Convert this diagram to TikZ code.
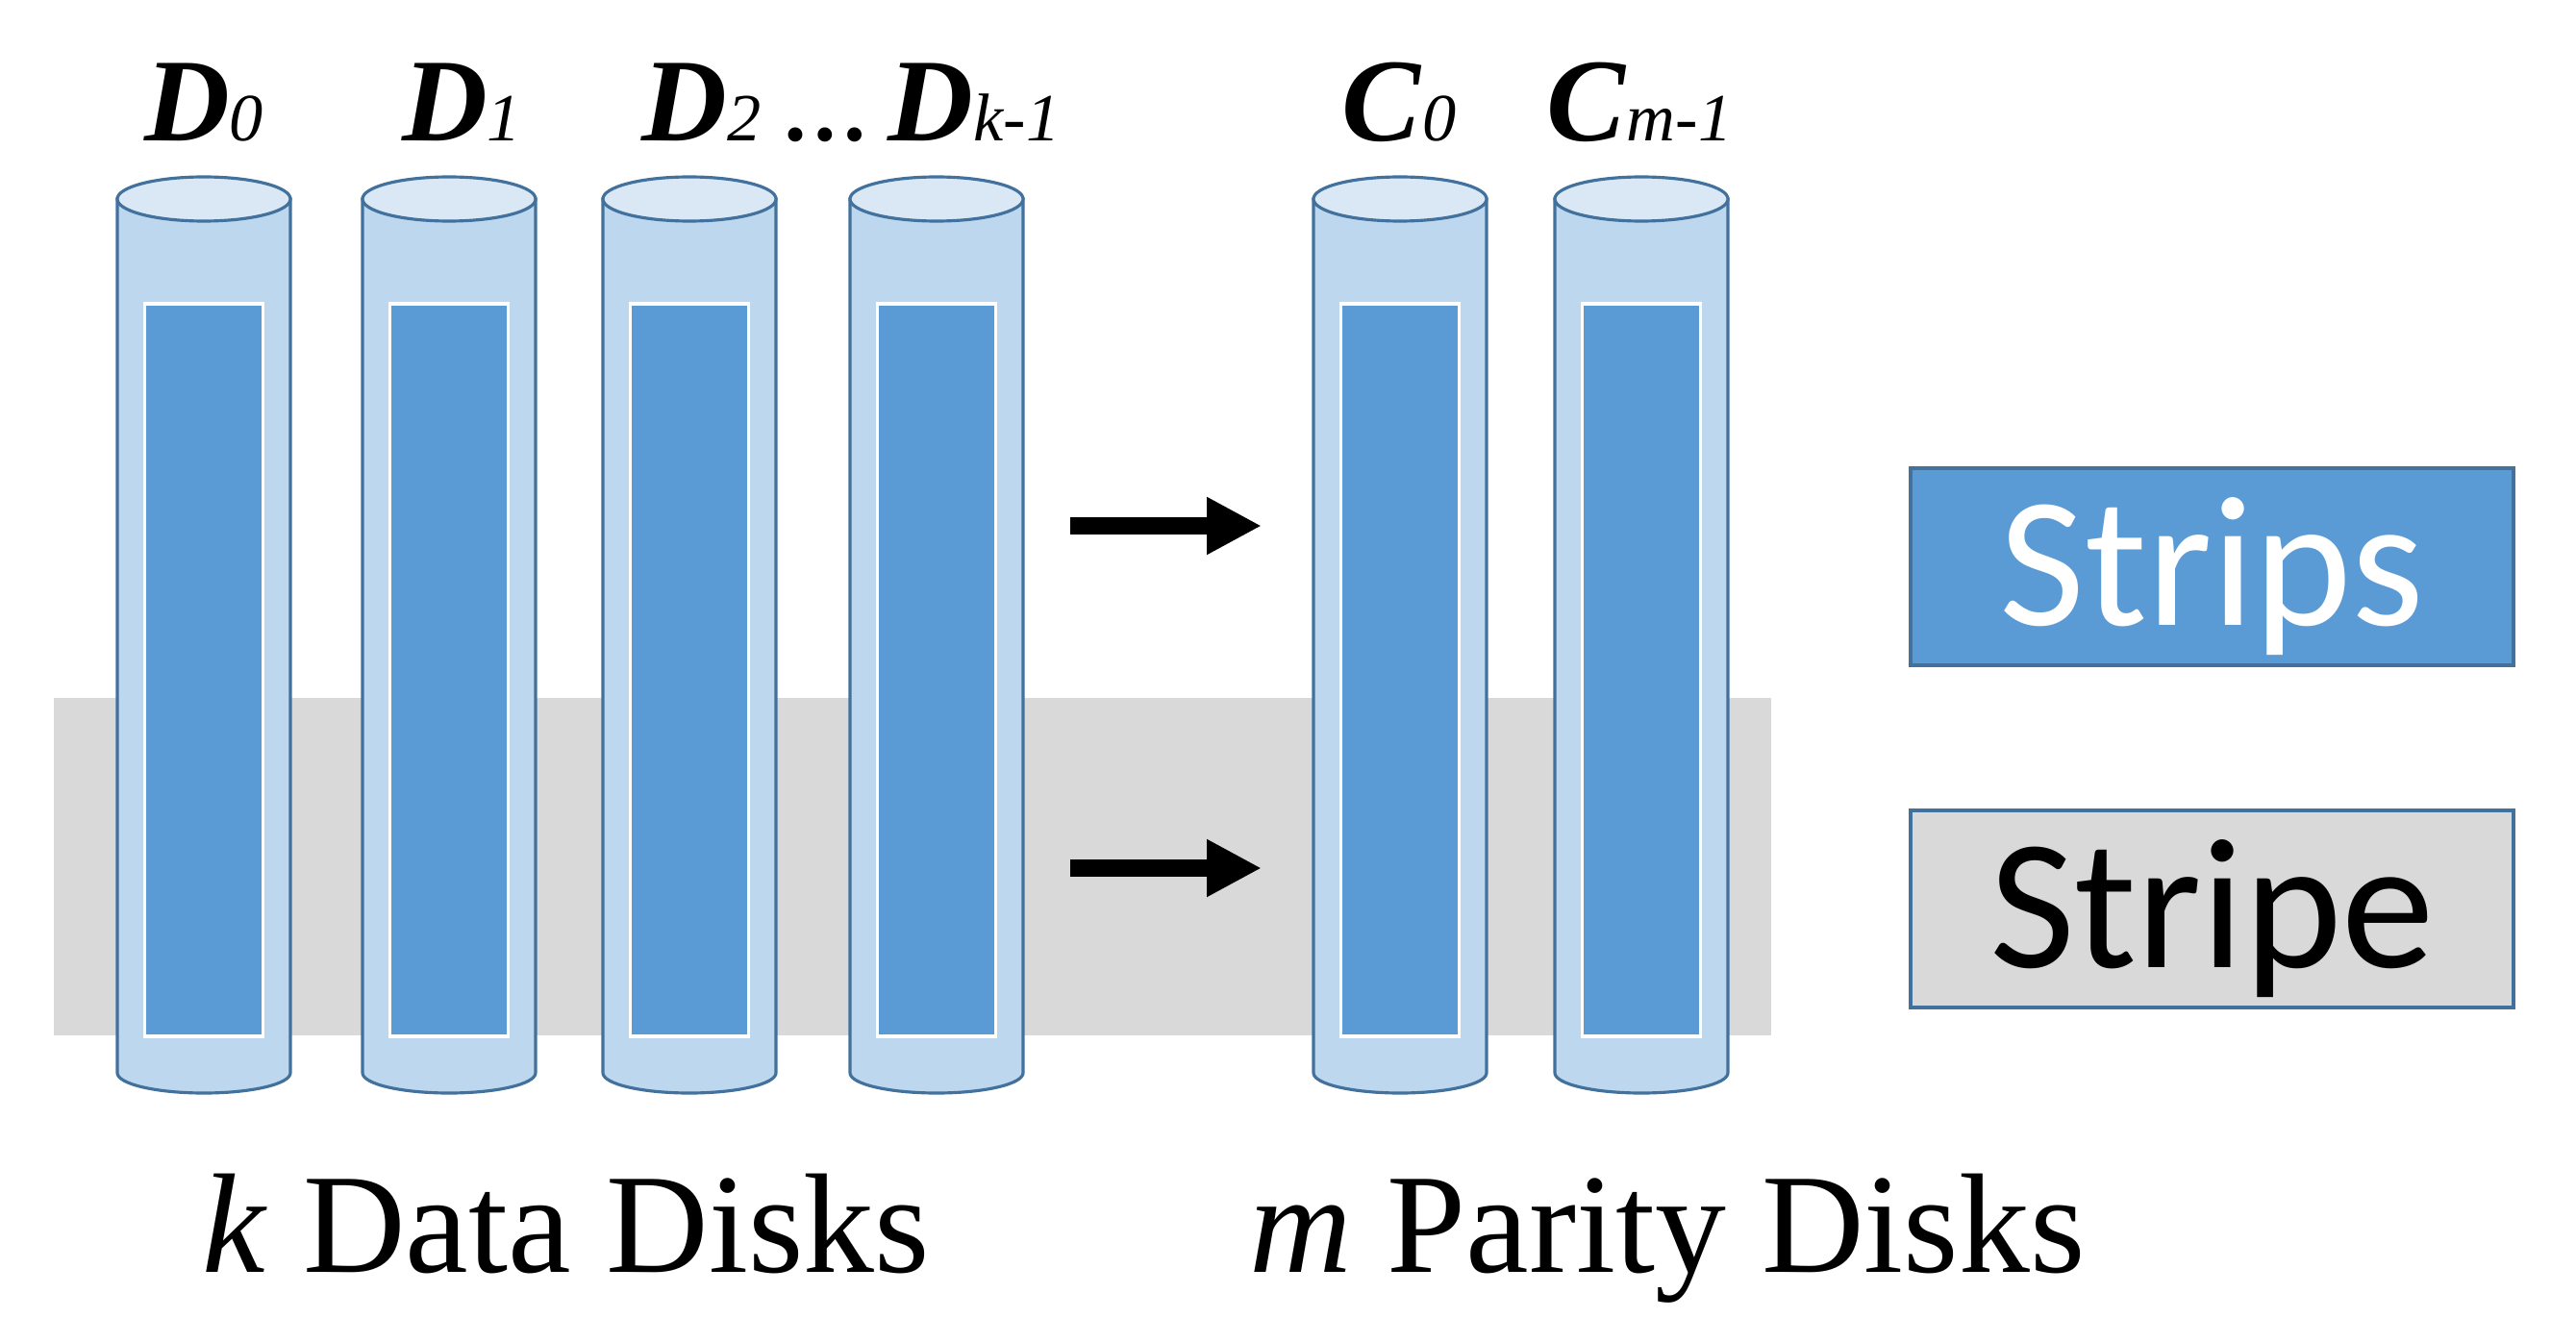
\documentclass[tikz,border=0pt]{standalone}
\usepackage{fontspec}
\setmainfont{Liberation Serif}
\newfontfamily\legendfont{Carlito}
\usetikzlibrary{arrows.meta}
\definecolor{diskbody}{HTML}{BDD7EE}
\definecolor{disktop}{HTML}{DAE8F5}
\definecolor{diskline}{HTML}{41719C}
\definecolor{stripblue}{HTML}{5B9BD5}
\definecolor{stripegray}{HTML}{D9D9D9}
\newcommand{\disksub}[2]{\textbf{\textit{#1}}{\fontsize{20}{20}\selectfont\textit{#2}}}

\begin{document}
\begin{tikzpicture}[
    disk/.style={fill=diskbody,draw=diskline,line width=0.9pt},
    disklid/.style={fill=disktop,draw=diskline,line width=0.9pt},
    strip/.style={fill=stripblue,draw=white,line width=0.9pt,minimum width=1.23cm,minimum height=7.62cm,inner sep=0pt},
    legendbox/.style={draw=diskline,line width=0.9pt,minimum width=6.27cm,minimum height=2.05cm,inner ysep=0pt,
      text height=45.6pt,text depth=11pt,font=\legendfont\fontsize{55}{55}\selectfont},
    disklabel/.style={anchor=base,font=\fontsize{35}{35}\selectfont},
    caption/.style={anchor=base,font=\fontsize{42}{42}\selectfont},
    bigarrow/.style={-{Triangle[length=0.57cm,width=0.56cm]},line width=0.18cm}
  ]
    \useasboundingbox (0,0) rectangle (26.79,13.96);
    \fill[stripegray] (0.56,3.19) rectangle (18.42,6.70);

    \foreach \name/\x in {d0/2.12,d1/4.67,d2/7.17,dk/9.74,c0/14.56,cm/17.07}{
      \draw[disk] (\x-0.9,11.89) -- (\x-0.9,2.80)
        arc[start angle=180,end angle=360,x radius=0.9,y radius=0.21] -- (\x+0.9,11.89) -- cycle;
      \draw[disklid] (\x,11.89) ellipse [x radius=0.9,y radius=0.23];
      \node[strip] (\name) at (\x,6.99) {};
    }

    \node[disklabel] (ld0) at (2.12,12.49) {\disksub{D}{0}};
    \node[disklabel] (ld1) at (4.80,12.49) {\disksub{D}{1}};
    \node[disklabel] (ldk) at (8.85,12.49) {\disksub{D}{2}\,{\fontsize{26}{26}\selectfont\bfseries …}\,\disksub{D}{k-1}};
    \node[disklabel] (lc0) at (14.55,12.49) {\disksub{C}{0}};
    \node[disklabel] (lcm) at (17.05,12.49) {\disksub{C}{m-1}};

    \coordinate (a1s) at (11.13,8.49);
    \coordinate (a1e) at (13.12,8.49);
    \coordinate (a2s) at (11.13,4.93);
    \coordinate (a2e) at (13.12,4.93);
    \draw[bigarrow] (a1s) -- (a1e);
    \draw[bigarrow] (a2s) -- (a2e);

    \node[legendbox,fill=stripblue,text=white] (strips) at (23.005,8.065) {Strips};
    \node[legendbox,fill=stripegray] (stripe) at (23.005,4.505) {Stripe};

    \node[caption] (kdata) at (5.89,0.73) {\textit{k} Data Disks};
    \node[caption] (mparity) at (17.34,0.73) {\textit{m} Parity Disks};
  \end{tikzpicture}
\end{document}
